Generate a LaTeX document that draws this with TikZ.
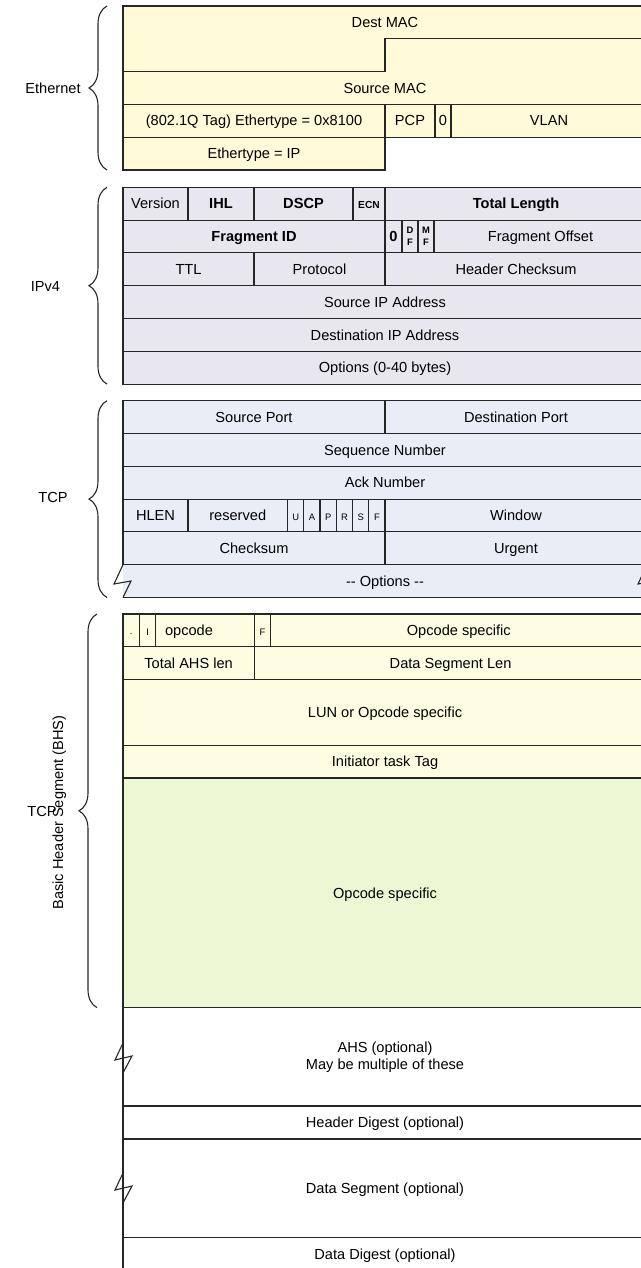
\documentclass[tikz,border=0pt]{standalone}
\usepackage{fontspec}
\setmainfont{Liberation Sans}
\usetikzlibrary{decorations.pathreplacing}

\definecolor{ethyellow}{HTML}{FFFAD7}
\definecolor{iplilac}{HTML}{E8E6EF}
\definecolor{tcpblue}{HTML}{E9EDF6}
\definecolor{bhscream}{HTML}{FDFDE2}
\definecolor{bhsgreen}{HTML}{EBF8D3}

\begin{document}
\begin{tikzpicture}[
    x=0.5pt, y=-0.5pt,
    font=\fontsize{7.3}{8.5}\selectfont,
    every node/.style={text height=0.72em, text depth=0.2em},
    field/.style={draw=black!85, line width=0.55pt},
    eth/.style={field, fill=ethyellow},
    ipv/.style={field, fill=iplilac},
    tcp/.style={field, fill=tcpblue},
    bhs/.style={field, fill=bhscream},
    opc/.style={field, fill=bhsgreen},
    pdu/.style={field, fill=white},
    multiline/.style={align=center, text height=, text depth=},
    bold/.style={font=\fontsize{7.3}{8.5}\selectfont\bfseries},
    small/.style={font=\fontsize{4.7}{5}\selectfont},
    smallbold/.style={font=\fontsize{5.1}{5.5}\selectfont\bfseries},
    flagtext/.style={multiline, font=\fontsize{4.7}{5.8}\selectfont\bfseries},
    hdrbrace/.style={decorate, decoration={brace, amplitude=9pt}, draw=black!85, line width=0.55pt},
    zigzag/.style={draw=black!85, line width=0.55pt}
  ]
    \useasboundingbox (0,0) rectangle (641,1268);
    \clip (0,0) rectangle (641,1268);

    % Ethernet
    \draw[eth] (123,6) -- (647,6) -- (647,38.8) -- (385,38.8) -- (385,71.6) -- (123,71.6) -- cycle;
    \node (dstmac) at (385,22.4) {Dest MAC};
    \draw[eth] (123,71.6) -- (385,71.6) -- (385,38.8) -- (647,38.8) -- (647,104.4) -- (123,104.4) -- cycle;
    \node (srcmac) at (385,88) {Source MAC};
    \draw[eth] (123,104.4) rectangle (385,137.2) node[midway] (tpid) {(802.1Q Tag) Ethertype = 0x8100};
    \draw[eth] (385,104.4) rectangle (435,137.2) node[midway] (pcp) {PCP};
    \draw[eth] (435,104.4) rectangle (451,137.2) node[midway] (dei) {0};
    \draw[eth] (451,104.4) rectangle (647,137.2) node[midway] (vlan) {VLAN};
    \draw[eth] (123,137.2) rectangle (385,170) node[midway] (etype) {Ethertype = IP};

    % IPv4
    \draw[ipv] (123,187.3) rectangle (188,220.1) node[midway] (version) {Version};
    \draw[ipv] (188,187.3) rectangle (254,220.1) node[midway, bold] (ihl) {IHL};
    \draw[ipv] (254,187.3) rectangle (353,220.1) node[midway, bold] (dscp) {DSCP};
    \draw[ipv] (353,187.3) rectangle (385,220.1) node[midway, smallbold] (ecn) {ECN};
    \draw[ipv] (385,187.3) rectangle (647,220.1) node[midway, bold] (totlen) {Total Length};
    \draw[ipv] (123,220.1) rectangle (385,252.9) node[midway, bold] (fragid) {Fragment ID};
    \draw[ipv] (385,220.1) rectangle (402,252.9) node[midway, bold] (zerobit) {0};
    \draw[ipv] (402,220.1) rectangle (418,252.9) node[midway, flagtext] (df) {D\\F};
    \draw[ipv] (418,220.1) rectangle (434,252.9) node[midway, flagtext] (mf) {M\\F};
    \draw[ipv] (434,220.1) rectangle (647,252.9) node[midway] (fragoff) {Fragment Offset};
    \draw[ipv] (123,252.9) rectangle (254,285.7) node[midway] (ttl) {TTL};
    \draw[ipv] (254,252.9) rectangle (385,285.7) node[midway] (proto) {Protocol};
    \draw[ipv] (385,252.9) rectangle (647,285.7) node[midway] (hdrcsum) {Header Checksum};
    \draw[ipv] (123,285.7) rectangle (647,318.5) node[midway] (srcip) {Source IP Address};
    \draw[ipv] (123,318.5) rectangle (647,351.3) node[midway] (dstip) {Destination IP Address};
    \draw[ipv] (123,351.3) rectangle (647,384.1) node[midway] (ipopt) {Options (0-40 bytes)};

    % TCP
    \draw[tcp] (123,400.7) rectangle (385,433.5) node[midway] (srcport) {Source Port};
    \draw[tcp] (385,400.7) rectangle (647,433.5) node[midway] (dstport) {Destination Port};
    \draw[tcp] (123,433.5) rectangle (647,466.3) node[midway] (seqnum) {Sequence Number};
    \draw[tcp] (123,466.3) rectangle (647,499.1) node[midway] (acknum) {Ack Number};
    \draw[tcp] (123,499.1) rectangle (188,531.9) node[midway] (hlen) {HLEN};
    \draw[tcp] (188,499.1) rectangle (287.5,531.9) node[midway] (resvd) {reserved};
    \draw[tcp] (287.5,499.1) rectangle (303.8,531.9) node[midway, small] (urg) {U};
    \draw[tcp] (303.8,499.1) rectangle (320,531.9) node[midway, small] (ackf) {A};
    \draw[tcp] (320,499.1) rectangle (336.3,531.9) node[midway, small] (psh) {P};
    \draw[tcp] (336.3,499.1) rectangle (352.5,531.9) node[midway, small] (rst) {R};
    \draw[tcp] (352.5,499.1) rectangle (368.8,531.9) node[midway, small] (syn) {S};
    \draw[tcp] (368.8,499.1) rectangle (385,531.9) node[midway, small] (fin) {F};
    \draw[tcp] (385,499.1) rectangle (647,531.9) node[midway] (window) {Window};
    \draw[tcp] (123,531.9) rectangle (385,564.7) node[midway] (tcpcsum) {Checksum};
    \draw[tcp] (385,531.9) rectangle (647,564.7) node[midway] (urgent) {Urgent};
    \fill[tcpblue] (123,564.7) rectangle (647,597.5);
    \draw[field] (123,564.7) -- (647,564.7) (123,597.5) -- (647,597.5);
    \node (tcpopt) at (385,581.1) {-{}- Options -{}-};
    \draw[zigzag] (123,564.7) -- (114,584) -- (131,581) -- (123,597.5);
    \draw[zigzag] (647,564.7) -- (638,584) -- (655,581) -- (647,597.5);

    % iSCSI basic header segment
    \draw[bhs] (123,614) rectangle (139.4,646.8);
    \node[small, anchor=base, text height=, text depth=] (bhsdot) at (131.2,634) {.};
    \draw[bhs] (139.4,614) rectangle (155.8,646.8) node[midway, small] (immed) {I};
    \draw[bhs] (155.8,614) rectangle (254.2,646.8);
    \node[anchor=west] (opcode) at (158,630.4) {opcode};
    \draw[bhs] (254.2,614) rectangle (270.6,646.8) node[midway, small] (final) {F};
    \draw[bhs] (270.6,614) rectangle (647,646.8) node[midway] (opspec) {Opcode specific};
    \draw[bhs] (123,646.8) rectangle (254.2,679.6) node[midway] (ahslen) {Total AHS len};
    \draw[bhs] (254.2,646.8) rectangle (647,679.6) node[midway] (dslen) {Data Segment Len};
    \draw[bhs] (123,679.6) rectangle (647,745.2) node[midway] (lun) {LUN or Opcode specific};
    \draw[bhs] (123,745.2) rectangle (647,778) node[midway] (itt) {Initiator task Tag};
    \draw[opc] (123,778) rectangle (647,1007.6) node[midway] (opbody) {Opcode specific};

    % optional parts
    \draw[pdu] (123,1007.6) rectangle (647,1106) node[midway, multiline] (ahs) {AHS (optional)\\May be multiple of these};
    \draw[pdu] (123,1106) rectangle (647,1139) node[midway] (hdigest) {Header Digest (optional)};
    \draw[pdu] (123,1139) rectangle (647,1237.6) node[midway] (dataseg) {Data Segment (optional)};
    \draw[pdu] (123,1237.6) rectangle (647,1270.4) node[midway] (ddigest) {Data Digest (optional)};
    \draw[zigzag] (123,1043) -- (115,1060) -- (132,1056) -- (123,1073);
    \draw[zigzag] (123,1173) -- (115,1190) -- (132,1186) -- (123,1203);

    % braces and labels
    \draw[hdrbrace] (107,170) -- (107,6);
    \draw[hdrbrace] (107,384.1) -- (107,187.3);
    \draw[hdrbrace] (107,597.5) -- (107,400.7);
    \draw[hdrbrace] (97,1007.6) -- (97,614);
    \node (ethlbl) at (53,88) {Ethernet};
    \node (iplbl) at (45.5,286) {IPv4};
    \node (tcplbl) at (53,497) {TCP};
    \node (bhstcp) at (42,811) {TCP};
    \node[rotate=90] (bhslbl) at (58,812.5) {Basic Header Segment (BHS)};
\end{tikzpicture}
\end{document}
